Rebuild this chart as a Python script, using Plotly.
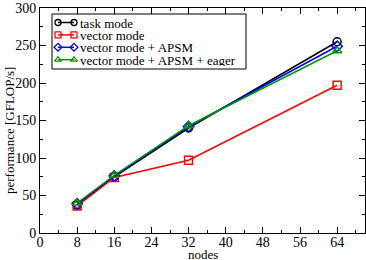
import plotly.graph_objects as go

nodes = [8, 16, 32, 64]
task_mode = [37, 75, 140, 255]
vector_mode = [36, 74, 97, 197]
vector_apsm = [39, 76, 142, 249]
vector_apsm_eager = [40, 77, 143, 243]

names = ["task mode", "vector mode", "vector mode + APSM", "vector mode + APSM + eager"]
colors = ["black", "#ff0000", "#0000ff", "#009900"]
symbols = ["circle-open", "square-open", "diamond-open", "triangle-up-open"]
values = [task_mode, vector_mode, vector_apsm, vector_apsm_eager]
x_title = "nodes"
y_title = "performance [GFLOP/s]"

font = "Liberation Serif"
W, H = 366, 260
ML, MR, MT, MB = 40, 1, 8, 27
PW, PH = W - ML - MR, H - MT - MB


def px_to_paper(px, py):
    return (px - ML) / PW, (H - MB - py) / PH


fig = go.Figure()
for name, vals, col, sym in zip(names, values, colors, symbols):
    fig.add_trace(go.Scatter(
        x=nodes, y=vals, name=name, mode="lines+markers", showlegend=False,
        line=dict(color=col, width=1.5),
        marker=dict(symbol=sym, size=8, color=col, line=dict(width=1.5, color=col)),
    ))

# custom legend drawn on an overlay axis measured in pixels
leg_left, leg_right, leg_top, leg_bottom = 52, 246, 14, 69
row_y0, row_dy = 22.5, 12.4
sym_x0, sym_x1, text_x = 58, 74, 79
for i, (name, col, sym) in enumerate(zip(names, colors, symbols)):
    yy = row_y0 + i * row_dy
    fig.add_trace(go.Scatter(
        x=[sym_x0, sym_x1], y=[yy, yy], mode="lines+markers", showlegend=False,
        xaxis="x2", yaxis="y2", hoverinfo="skip",
        line=dict(color=col, width=1.5),
        marker=dict(symbol=sym, size=6, color=col, line=dict(width=1.3, color=col)),
    ))
    fig.add_annotation(x=text_x, y=yy, xref="x2", yref="y2", text=name,
                       showarrow=False, xanchor="left", yanchor="middle",
                       height=12, borderpad=0,
                       font=dict(family=font, size=13, color="black"))
fig.add_shape(type="rect", xref="x2", yref="y2", x0=leg_left, x1=leg_right,
              y0=leg_top, y1=leg_bottom, line=dict(color="black", width=1),
              fillcolor="white", layer="below")

# axis titles
tx, ty = px_to_paper((ML + W - MR) / 2, 254)
fig.add_annotation(x=tx, y=ty, xref="paper", yref="paper", text=x_title,
                   showarrow=False, xanchor="center", yanchor="middle",
                   height=12, borderpad=0,
                   font=dict(family=font, size=13, color="black"))
tx, ty = px_to_paper(9, 131)
fig.add_annotation(x=tx, y=ty, xref="paper", yref="paper", text=y_title, textangle=-90,
                   showarrow=False, xanchor="center", yanchor="middle",
                   font=dict(family=font, size=13, color="black"))

axis_common = dict(
    showline=True, linecolor="black", linewidth=1, mirror="ticks",
    ticks="inside", ticklen=6, tickcolor="black",
    showgrid=False, zeroline=False, automargin=False,
    tickfont=dict(family=font, size=14),
    tickmode="linear", tick0=0,
)

fig.update_layout(
    width=W, height=H,
    margin=dict(l=ML, r=MR, t=MT, b=MB, autoexpand=False),
    paper_bgcolor="white", plot_bgcolor="white",
    font=dict(family=font, size=13, color="black"),
    showlegend=False,
    xaxis=dict(range=[0, 70], dtick=8, ticklabelstandoff=-4,
               minor=dict(ticks="inside", ticklen=3, dtick=4, tickcolor="black"),
               **axis_common),
    yaxis=dict(range=[0, 300], dtick=50,
               minor=dict(ticks="inside", ticklen=3, dtick=25, tickcolor="black"),
               **axis_common),
    xaxis2=dict(overlaying="x", range=[ML, W - MR], visible=False, fixedrange=True),
    yaxis2=dict(overlaying="y", range=[H - MB, MT], visible=False, fixedrange=True),
)

fig.write_html("out.html", config={"displayModeBar": False},
               post_script="document.body.style.margin='0';document.body.style.overflow='hidden';")
